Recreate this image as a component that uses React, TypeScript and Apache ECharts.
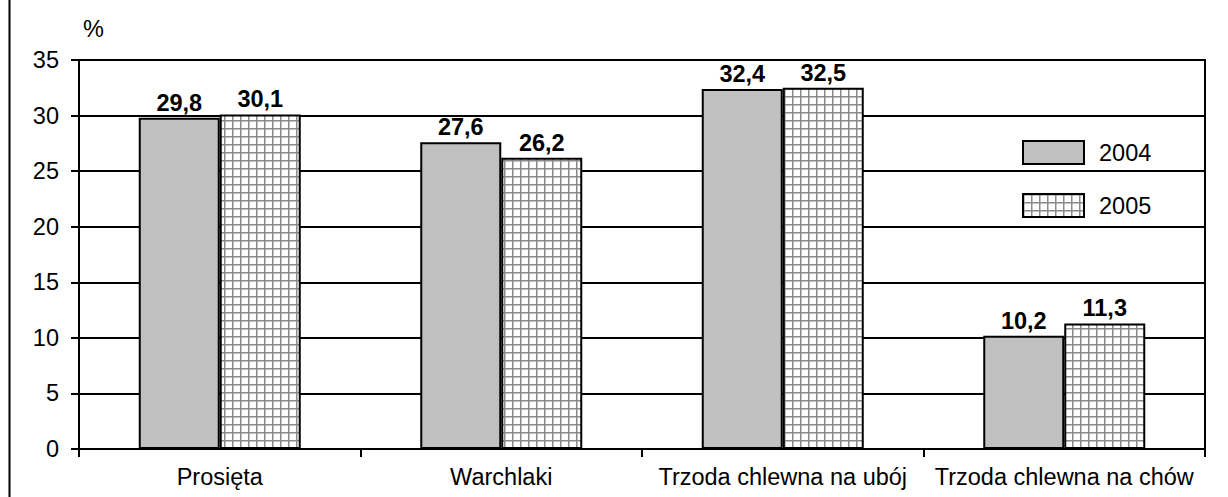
import React, { useEffect, useRef } from "react";
import * as echarts from "echarts";

const categories = ["Prosięta", "Warchlaki", "Trzoda chlewna na ubój", "Trzoda chlewna na chów"];
const values2004 = [29.8, 27.6, 32.4, 10.2];
const values2005 = [30.1, 26.2, 32.5, 11.3];
const seriesNames = ["2004", "2005"];
const yTicks = { min: 0, max: 35, interval: 5 };

function makePattern(): HTMLCanvasElement {
  const c = document.createElement("canvas");
  c.width = 8;
  c.height = 8;
  const ctx = c.getContext("2d")!;
  ctx.fillStyle = "#ffffff";
  ctx.fillRect(0, 0, 8, 8);
  ctx.fillStyle = "#8a8a8a";
  ctx.fillRect(0, 0, 8, 1.5);
  ctx.fillRect(0, 0, 1.5, 8);
  return c;
}

export default function App() {
  const ref = useRef<HTMLDivElement>(null);
  useEffect(() => {
    if (!ref.current) return;
    const chart = echarts.init(ref.current, null, { renderer: "svg" });
    const pattern = makePattern();
    const font = "Liberation Sans, Arial, sans-serif";
    const fs = 23.5;
    const label = {
      show: true,
      position: "top" as const,
      distance: 3,
      color: "#000",
      fontSize: fs,
      fontWeight: "bold" as const,
      fontFamily: font,
      formatter: (p: any) => String(p.value.toFixed(1)).replace(".", ","),
    };
    chart.setOption({
      animation: false,
      backgroundColor: "#ffffff",
      textStyle: { fontFamily: font },
      grid: {
        left: 79,
        right: 23,
        top: 60,
        bottom: 48,
        show: true,
        borderColor: "#000",
        borderWidth: 2,
        backgroundColor: "transparent",
      },
      legend: {
        left: 1022,
        top: 140,
        orient: "vertical",
        padding: 0,
        icon: "rect",
        itemWidth: 61,
        itemHeight: 23,
        itemGap: 28,
        textStyle: { fontSize: fs, color: "#000", fontFamily: font, padding: [0, 0, 0, 10] },
        data: seriesNames,
      },
      xAxis: {
        type: "category",
        data: categories,
        axisLine: { lineStyle: { color: "#000", width: 2 } },
        axisTick: { show: true, length: 8, lineStyle: { color: "#000", width: 2 } },
        axisLabel: {
          color: "#000",
          fontSize: fs,
          margin: 16,
          fontFamily: font,
          interval: 0,
          hideOverlap: false,
        },
      },
      yAxis: {
        type: "value",
        min: yTicks.min,
        max: yTicks.max,
        interval: yTicks.interval,
        axisLine: { show: true, lineStyle: { color: "#000", width: 2 } },
        axisTick: { show: true, length: 8, lineStyle: { color: "#000", width: 2 } },
        axisLabel: { color: "#000", fontSize: fs, margin: 20, fontFamily: font },
        splitLine: { lineStyle: { color: "#000", width: 2 } },
      },
      graphic: [
        {
          type: "line",
          shape: { x1: 9.5, y1: 0, x2: 9.5, y2: 497 },
          style: { stroke: "#000", lineWidth: 2 },
        },
        {
          type: "text",
          left: 83,
          top: 17,
          style: { text: "%", fontSize: fs, fill: "#000", fontFamily: font },
        },
      ],
      series: [
        {
          name: seriesNames[0],
          type: "bar",
          data: values2004,
          barWidth: 81,
          barGap: "0%",
          itemStyle: { color: "#c0c0c0", borderColor: "#000", borderWidth: 2 },
          label,
        },
        {
          name: seriesNames[1],
          type: "bar",
          data: values2005,
          barWidth: 81,
          barGap: "0%",
          itemStyle: {
            color: { image: pattern, repeat: "repeat" },
            borderColor: "#000",
            borderWidth: 2,
          },
          label,
        },
      ],
    });
    return () => chart.dispose();
  }, []);
  return (
    <div
      ref={ref}
      style={{ position: "absolute", left: 0, top: 0, width: 1228, height: 497 }}
    />
  );
}
